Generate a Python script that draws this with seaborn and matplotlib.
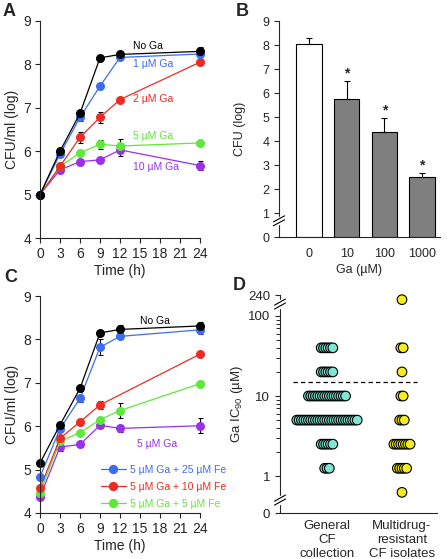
import numpy as np
import pandas as pd
import matplotlib
matplotlib.use("Agg")
import matplotlib.pyplot as plt
import seaborn as sns
from matplotlib.lines import Line2D
from matplotlib.ticker import FixedLocator, NullFormatter

# ---- panel A: growth curves with increasing Ga ----
time_a = [0, 3, 6, 9, 12, 24]
a_noga = [5.0, 6.0, 6.87, 8.15, 8.23, 8.30]
a_noga_err = [0, 0.04, 0.05, 0.04, 0.05, 0.10]
a_ga1 = [5.0, 5.93, 6.78, 7.50, 8.16, 8.24]
a_ga1_err = [0, 0.05, 0.08, 0.05, 0.03, 0.05]
a_ga2 = [5.0, 5.65, 6.32, 6.78, 7.19, 8.05]
a_ga2_err = [0, 0.05, 0.13, 0.12, 0.05, 0.07]
a_ga5 = [5.0, 5.65, 5.96, 6.16, 6.12, 6.19]
a_ga5_err = [0, 0.05, 0.05, 0.10, 0.17, 0.03]
a_ga10 = [5.0, 5.57, 5.76, 5.80, 6.03, 5.67]
a_ga10_err = [0, 0.07, 0.07, 0.04, 0.13, 0.10]
a_labels = ["No Ga", "1 \u00b5M Ga", "2 \u00b5M Ga", "5 \u00b5M Ga", "10 \u00b5M Ga"]

# ---- panel B: CFU vs Ga concentration ----
b_conc = ["0", "10", "100", "1000"]
b_cfu = [8.05, 5.73, 4.39, 2.52]
b_err = [0.25, 0.77, 0.55, 0.14]
b_signif = ["", "*", "*", "*"]

# ---- panel C: Fe rescue ----
time_c = [0, 3, 6, 9, 12, 24]
time_c_fe10 = [0, 3, 6, 9, 24]
c_noga = [5.15, 6.03, 6.87, 8.15, 8.23, 8.31]
c_noga_err = [0, 0.04, 0.05, 0.04, 0.10, 0.10]
c_fe25 = [4.83, 5.94, 6.64, 7.82, 8.07, 8.22]
c_fe25_err = [0, 0.05, 0.08, 0.18, 0.07, 0.10]
c_fe10 = [4.57, 5.72, 6.10, 6.49, 7.66]
c_fe10_err = [0, 0.06, 0.07, 0.10, 0.04]
c_fe5 = [4.47, 5.65, 5.85, 6.15, 6.36, 6.98]
c_fe5_err = [0, 0.05, 0.04, 0.05, 0.18, 0.06]
c_ga5 = [4.37, 5.52, 5.58, 6.02, 5.95, 6.01]
c_ga5_err = [0, 0.10, 0.06, 0.05, 0.08, 0.17]
c_legend = ["5 \u00b5M Ga + 25 \u00b5M Fe", "5 \u00b5M Ga + 10 \u00b5M Fe", "5 \u00b5M Ga + 5 \u00b5M Fe"]

# ---- panel D: IC90 of clinical isolates ----
d_groups = ["General\nCF\ncollection", "Multidrug-\nresistant\nCF isolates"]
general_ic90 = [40, 20, 10, 5, 2.5, 1.25]
general_n = [6, 6, 17, 27, 6, 3]
mdr_ic90 = [160, 40, 20, 10, 5, 2.5, 1.25, 0.625]
mdr_n = [1, 2, 1, 2, 3, 8, 5, 1]
d_cutoff = 15

BLACK = "black"
BLUE = "#3C6CF0"
RED = "#EE2B22"
GREEN = "#5EE83A"
PURPLE = "#9A30E8"

sns.set_style("ticks")
plt.rcParams["font.family"] = ["Liberation Sans", "DejaVu Sans"]
plt.rcParams["axes.linewidth"] = 0.8
plt.rcParams["xtick.major.width"] = 0.8
plt.rcParams["ytick.major.width"] = 0.8
plt.rcParams["xtick.major.size"] = 3.5
plt.rcParams["ytick.major.size"] = 3.5

W, H = 447, 559
fig = plt.figure(figsize=(W / 100, H / 100), dpi=100)


def px_axes(left, top, right, bottom):
    return fig.add_axes([left / W, 1 - bottom / H, (right - left) / W, (bottom - top) / H])


def growth(ax, t, y, err, color):
    ax.errorbar(t, y, yerr=err, fmt="none", ecolor="black", elinewidth=0.8,
                capsize=1.8, capthick=0.8, zorder=1.5, clip_on=False)
    sns.lineplot(x=t, y=y, ax=ax, color=color, marker="o", markersize=5.7,
                 markeredgecolor=color, linewidth=0.9, clip_on=False, zorder=2)


def style_time_axis(ax):
    ax.set_xlim(0, 24)
    ax.set_ylim(4, 9)
    ax.set_xticks(range(0, 25, 3))
    ax.set_yticks(range(4, 10))
    ax.tick_params(labelsize=10, pad=3)
    ax.set_xlabel("Time (h)", fontsize=10, labelpad=2)
    ax.set_ylabel("CFU/ml (log)", fontsize=10, labelpad=3)
    sns.despine(ax=ax)


def add_break(ax, frac):
    ax.plot([0, 0], [frac - 0.012, frac + 0.012], color="white", lw=2.5,
            transform=ax.transAxes, clip_on=False, zorder=5)
    for off in (-0.009, 0.009):
        ax.plot([-0.035, 0.035], [frac + off - 0.014, frac + off + 0.014],
                color="black", lw=0.8, transform=ax.transAxes, clip_on=False, zorder=6)


# A
ax_a = px_axes(40, 21, 200, 238)
for y, e, c in [(a_ga10, a_ga10_err, PURPLE), (a_ga5, a_ga5_err, GREEN),
                (a_ga2, a_ga2_err, RED), (a_ga1, a_ga1_err, BLUE),
                (a_noga, a_noga_err, BLACK)]:
    growth(ax_a, time_a, y, e, c)
style_time_axis(ax_a)
for lab, ty, c in zip(a_labels, [8.43, 8.0, 7.2, 6.35, 5.63],
                      [BLACK, BLUE, RED, GREEN, PURPLE]):
    ax_a.text(13.9, ty, lab, color=c, fontsize=7.5, va="center", ha="left")

# B
ax_b = px_axes(279, 21, 440, 237)
df_b = pd.DataFrame({"conc": b_conc, "cfu": b_cfu})
sns.barplot(data=df_b, x="conc", y="cfu", hue="conc", order=b_conc,
            palette=["white", "#7F7F7F", "#7F7F7F", "#7F7F7F"], legend=False,
            edgecolor="black", linewidth=0.8, width=0.67, ax=ax_b)
xs = np.arange(len(b_conc))
ax_b.errorbar(xs, b_cfu, yerr=[np.zeros(len(b_err)), b_err], fmt="none",
              ecolor="black", elinewidth=0.8, capsize=2.2, capthick=0.8, zorder=3)
for x, v, e, s in zip(xs, b_cfu, b_err, b_signif):
    ax_b.text(x, v + e + 0.02, s, ha="center", va="bottom", fontsize=10, fontweight="bold")
ax_b.set_xlim(-0.8, 3.48)
ax_b.set_ylim(0, 9)
ax_b.set_yticks(range(0, 10))
ax_b.tick_params(axis="x", length=0, pad=8)
ax_b.tick_params(labelsize=9)
ax_b.set_xlabel("Ga (\u00b5M)", fontsize=9, labelpad=3)
ax_b.set_ylabel("CFU (log)", fontsize=9, labelpad=12)
sns.despine(ax=ax_b)
add_break(ax_b, 0.075)

# C
ax_c = px_axes(40, 296, 200, 513)
growth(ax_c, time_c, c_ga5, c_ga5_err, PURPLE)
growth(ax_c, time_c, c_fe5, c_fe5_err, GREEN)
growth(ax_c, time_c_fe10, c_fe10, c_fe10_err, RED)
growth(ax_c, time_c, c_fe25, c_fe25_err, BLUE)
growth(ax_c, time_c, c_noga, c_noga_err, BLACK)
style_time_axis(ax_c)
ax_c.text(15, 8.42, "No Ga", color=BLACK, fontsize=7.5, va="center")
ax_c.text(14.5, 5.6, "5 \u00b5M Ga", color=PURPLE, fontsize=7.5, va="center")
handles = [Line2D([], [], color=c, marker="o", markersize=5.7, lw=0.9)
           for c in (BLUE, RED, GREEN)]
ax_c.legend(handles, c_legend, loc="lower right", bbox_to_anchor=(1.19, 0.0),
            frameon=False, fontsize=7.5, labelcolor=[BLUE, RED, GREEN],
            handlelength=2.4, handletextpad=0.4, labelspacing=0.68,
            borderaxespad=0.2, borderpad=0.2)

# D
ax_d = px_axes(280, 295, 437, 513)
rows = []
step = 0.031
for g, (vals, counts) in enumerate([(general_ic90, general_n), (mdr_ic90, mdr_n)]):
    for v, n in zip(vals, counts):
        for i in range(n):
            rows.append({"x": g + (i - (n - 1) / 2) * step, "ic90": v, "group": g})
df_d = pd.DataFrame(rows)
sns.scatterplot(data=df_d, x="x", y="ic90", hue="group",
                palette=["#80E6D2", "#F4EC1C"], legend=False, s=48,
                edgecolor="black", linewidth=0.8, ax=ax_d, clip_on=False, zorder=3)
ax_d.set_yscale("log")
ymin, ymax = 0.345, 183
ax_d.set_ylim(ymin, ymax)
ax_d.set_xlim(-0.627, 1.467)
ax_d.plot([-0.45, 1.2], [d_cutoff, d_cutoff], color="black", lw=0.9,
          dashes=(3.5, 2.5), zorder=2)
ax_d.set_yticks([ymin, 1, 10, 100, ymax], labels=["0", "1", "10", "100", "240"])
ax_d.set_yticks([2, 3, 4, 5, 6, 7, 8, 9, 20, 30, 40, 50, 60, 70, 80, 90], minor=True)
ax_d.yaxis.set_minor_formatter(NullFormatter())
ax_d.tick_params(axis="y", which="minor", left=True, length=3, width=0.7)
ax_d.set_xticks([0, 1], labels=d_groups)
ax_d.tick_params(axis="x", length=0, pad=5)
ax_d.tick_params(labelsize=9.5)
ax_d.set_xlabel("")
ax_d.set_ylabel("Ga IC$_{\\mathregular{90}}$ (\u00b5M)", fontsize=9.5, labelpad=2)
sns.despine(ax=ax_d)
lr = np.log10(ymax) - np.log10(ymin)
for v in (0.5, 141):
    add_break(ax_d, (np.log10(v) - np.log10(ymin)) / lr)

# panel letters
for lab, x, y in [("A", 3, 11), ("B", 236, 11), ("C", 4, 277), ("D", 233, 285)]:
    fig.text(x / W, 1 - y / H, lab, fontsize=13, fontweight="bold", va="center", ha="left")

fig.savefig("out.png", dpi=100)
